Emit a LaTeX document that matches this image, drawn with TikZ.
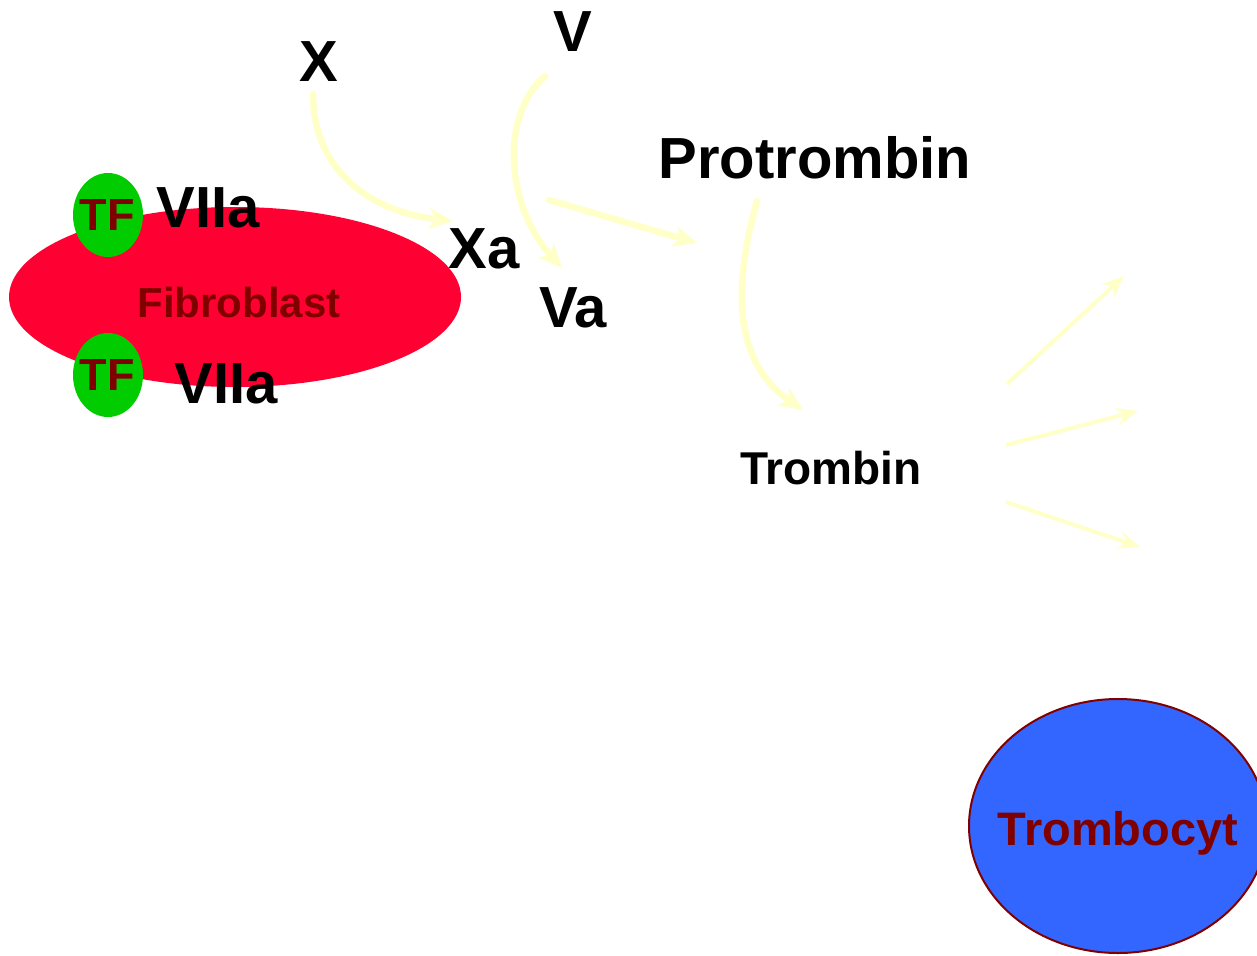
\documentclass[tikz,border=0pt]{standalone}
\usepackage{fontspec}
\setmainfont{Liberation Sans}
\usetikzlibrary{arrows.meta}
\definecolor{cellred}{HTML}{FF0033}
\definecolor{tfgreen}{HTML}{00CC00}
\definecolor{plateblue}{HTML}{3366FF}
\definecolor{darkred}{HTML}{800000}
\definecolor{paleyellow}{HTML}{FFFFC8}
\tikzset{
  lbl/.style={inner sep=0pt, anchor=base, font=\bfseries\fontsize{58}{58}\selectfont, text=black},
  smalllbl/.style={lbl, font=\bfseries\fontsize{46}{46}\selectfont},
  celltext/.style={inner sep=0pt, anchor=base, text=darkred, font=\bfseries\fontsize{#1}{#1}\selectfont},
  flow/.style={draw=paleyellow, line width=6.5pt, line cap=round,
    -{Stealth[length=24pt, width=21pt, inset=7pt]}},
  spray/.style={draw=paleyellow, line width=4pt,
    -{Stealth[length=22pt, width=18pt, inset=8pt]}}
}
\begin{document}
\begin{tikzpicture}[x=1pt, y=-1pt]
\useasboundingbox (0,0) rectangle (1257,955);

% cells
\fill[cellred] (235,297) ellipse [x radius=226, y radius=90];
\fill[tfgreen] (108,215) ellipse [x radius=35, y radius=42];
\fill[tfgreen] (108,375) ellipse [x radius=35, y radius=42];
\filldraw[fill=plateblue, draw=darkred, line width=2pt] (1118,826) ellipse [x radius=149, y radius=127];

% labels
\node[celltext=42] (fib) at (239,317) {Fibroblast};
\node[celltext=45] (tf1) at (107,230) {TF};
\node[celltext=45] (tf2) at (107,390) {TF};
\node[lbl] (viia1) at (208,227) {VIIa};
\node[lbl] (viia2) at (226,403) {VIIa};
\node[celltext=47] (trc) at (1118,845) {Trombocyt};
\node[lbl] (x) at (319,82) {X};
\node[lbl] (v) at (573,52) {V};
\node[lbl] (xa) at (484,268) {Xa};
\node[lbl] (va) at (573,327) {Va};
\node[lbl] (pro) at (815,178) {Protrombin};
\node[smalllbl] (tr) at (831,484) {Trombin};

% arrow end points
\coordinate (xs) at (313,94);
\coordinate (xe) at (453,221);
\coordinate (vs) at (545,76);
\coordinate (ve) at (562,268);
\coordinate (cs) at (549,200);
\coordinate (ce) at (697,243);
\coordinate (ps) at (757,201);
\coordinate (pe) at (803,410);
\coordinate (a1s) at (1007,384);
\coordinate (a1e) at (1124,276);
\coordinate (a2s) at (1006,445);
\coordinate (a2e) at (1138,411);
\coordinate (a3s) at (1006,502);
\coordinate (a3e) at (1140,547);

% activation arrows
\draw[flow] (xs) .. controls (313,170) and (370,212) .. (xe);
\draw[flow] (vs) .. controls (500,115) and (505,205) .. (ve);
\draw[flow] (cs) -- (ce);
\draw[flow] (ps) .. controls (735,280) and (730,360) .. (pe);

% thrombin effects
\draw[spray] (a1s) -- (a1e);
\draw[spray] (a2s) -- (a2e);
\draw[spray] (a3s) -- (a3e);
\end{tikzpicture}
\end{document}
